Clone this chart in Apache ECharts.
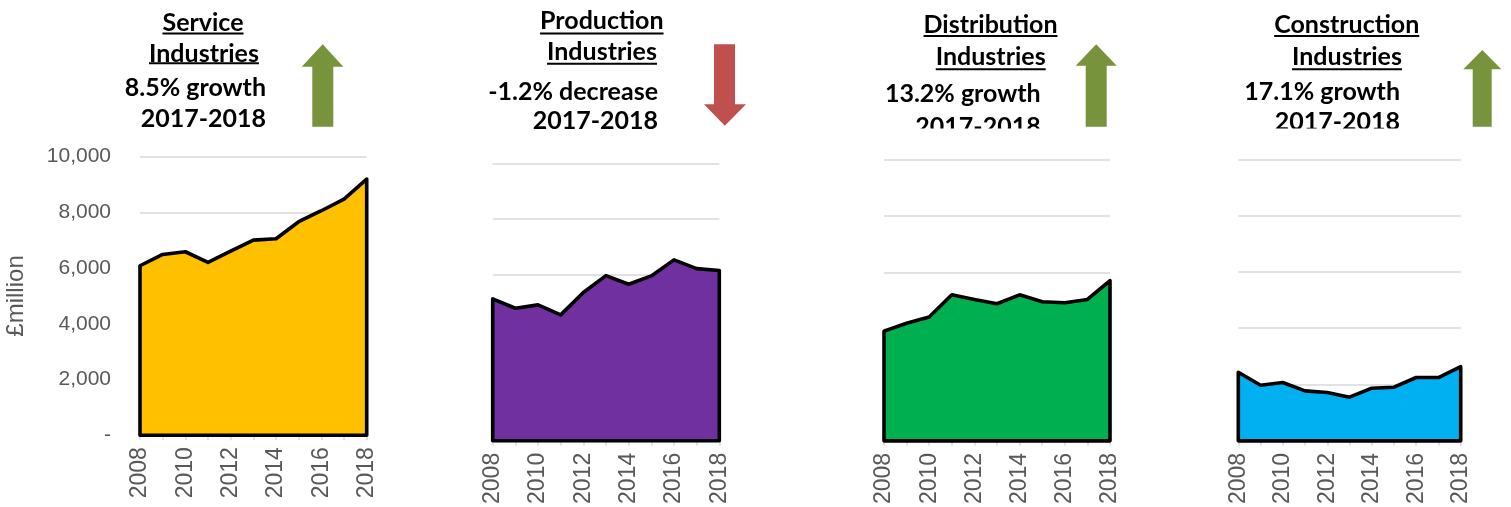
<!DOCTYPE html>
<html>
<head>
<meta charset="utf-8">
<script src="https://cdn.jsdelivr.net/npm/echarts@6/dist/echarts.min.js"></script>
<style>
  html, body { margin: 0; padding: 0; background: #fff; }
  #chart { width: 1511px; height: 507px; }
</style>
</head>
<body>
<div id="chart"></div>
<script>
// ---- data ----
const years = ['2008','2009','2010','2011','2012','2013','2014','2015','2016','2017','2018'];
const serviceValues      = [6084, 6491, 6587, 6204, 6611, 7006, 7054, 7665, 8060, 8479, 9198];
const productionValues   = [5114, 4778, 4898, 4538, 5342, 5954, 5642, 5942, 6519, 6206, 6134];
const distributionValues = [3906, 4188, 4412, 5200, 5035, 4882, 5200, 4953, 4918, 5035, 5700];
const constructionValues = [2438, 1976, 2071, 1775, 1716, 1550, 1870, 1905, 2249, 2249, 2634];
const yTickValues = [0, 2000, 4000, 6000, 8000, 10000];
const yAxisTitle = '£million';
const panelTitles = [
  ['Service', 'Industries', '8.5% growth', '2017-2018'],
  ['Production', 'Industries', '-1.2% decrease', '2017-2018'],
  ['Distribution', 'Industries', '13.2% growth', '2017-2018'],
  ['Construction', 'Industries', '17.1% growth', '2017-2018']
];

// ---- styles / layout ----
const fills = ['#FFC000', '#7030A0', '#00B050', '#00B0F0'];
const grids = [
  { left: 140,    top: 156.7, width: 226.7, height: 278.5 },
  { left: 492.7,  top: 163.3, width: 226.6, height: 277.5 },
  { left: 884,    top: 160,   width: 226,   height: 283.3 },
  { left: 1238.3, top: 159.3, width: 222.4, height: 282 }
];
const seriesValues = [serviceValues, productionValues, distributionValues, constructionValues];
const gridColor = '#d9d9d9';
const labelColor = '#595959';
const titleFont = 'bold 25px Lato';

const chart = echarts.init(document.getElementById('chart'), null, { renderer: 'canvas' });

const xAxes = grids.map((g, i) => ({
  type: 'category', gridIndex: i, data: years, boundaryGap: false,
  axisLine: { show: true, lineStyle: { color: gridColor, width: 1.5 } },
  axisTick: { show: true, interval: 0, length: 5, lineStyle: { color: gridColor, width: 1.5 } },
  axisLabel: { interval: 1, rotate: 90, color: labelColor, fontFamily: 'Liberation Sans', fontSize: 23, margin: 12 }
}));
const yAxes = grids.map((g, i) => ({
  type: 'value', gridIndex: i, min: yTickValues[0], max: yTickValues[yTickValues.length - 1], interval: 2000,
  axisLine: { show: false }, axisTick: { show: false },
  splitLine: { show: true, lineStyle: { color: gridColor, width: 1.5 } },
  axisLabel: i === 0 ? {
    show: true, color: labelColor, fontFamily: 'Liberation Sans', fontSize: 21, margin: 29,
    formatter: v => v === 0 ? '-' : v.toLocaleString('en-US')
  } : { show: false },
  name: i === 0 ? yAxisTitle : '',
  nameLocation: 'middle', nameRotate: 90, nameGap: 112,
  nameTextStyle: { color: labelColor, fontFamily: 'Liberation Sans', fontSize: 24 }
}));

function areaRenderer(values, fill) {
  return function (params, api) {
    if (params.dataIndex !== 0) return null;
    const pts = values.map((v, i) => api.coord([i, v]));
    pts.push(api.coord([values.length - 1, 0]));
    pts.push(api.coord([0, 0]));
    return {
      type: 'polygon',
      shape: { points: pts },
      style: { fill: fill, stroke: '#000', lineWidth: 3.6, lineJoin: 'round' }
    };
  };
}

const series = seriesValues.map((vals, i) => ({
  type: 'custom', xAxisIndex: i, yAxisIndex: i,
  data: vals.map((v, j) => [j, v]),
  encode: { x: 0, y: 1 },
  renderItem: areaRenderer(vals, fills[i]),
  clip: false, silent: true, z: 3
}));

// ---- titles / arrows ----
const measureCtx = document.createElement('canvas').getContext('2d');
function textWidth(t) { measureCtx.font = titleFont; return measureCtx.measureText(t).width; }

const titlePos = [
  { cx1: 203,   cx2: 204,   rx: 266,    y: [23, 53.5, 87.5, 118.5],  u: [33.5, 63.2] },
  { cx1: 601.8, cx2: 602,   rx: 658,    y: [21, 51.7, 91.7, 120.5],  u: [33.5, 63.7] },
  { cx1: 990.5, cx2: 990.7, rx: 1040.7, y: [25, 56.7, 93.5, 126.5],  u: [35.9, 69.2] },
  { cx1: 1346.7,cx2: 1347,  rx: 1400,   y: [25, 57, 91.5, 121.5],    u: [35.9, 69.2] }
];

const graphics = [];
panelTitles.forEach((lines, i) => {
  const p = titlePos[i];
  const cxs = [p.cx1, p.cx2];
  for (let k = 0; k < 2; k++) {
    graphics.push({ type: 'text', x: cxs[k], y: p.y[k], z: 10,
      style: { text: lines[k], font: titleFont, fill: '#000', align: 'center', verticalAlign: 'middle' } });
    const w = textWidth(lines[k]);
    graphics.push({ type: 'line', z: 10,
      shape: { x1: cxs[k] - w / 2, y1: p.u[k], x2: cxs[k] + w / 2, y2: p.u[k] },
      style: { stroke: '#000', lineWidth: 2 } });
  }
  for (let k = 2; k < 4; k++) {
    graphics.push({ type: 'text', x: p.rx, y: p.y[k], z: 10,
      style: { text: lines[k], font: titleFont, fill: '#000', align: 'right', verticalAlign: 'middle' } });
  }
});
// text-box clipping of the last lines in panels 3 and 4
graphics.push({ type: 'rect', z: 20, shape: { x: 910, y: 128.5, width: 140, height: 14 }, style: { fill: '#fff' } });
graphics.push({ type: 'rect', z: 20, shape: { x: 1270, y: 128.5, width: 140, height: 14 }, style: { fill: '#fff' } });

function upArrow(tipX, tipY, headY, hl, hr, sl, sr, bottom, color) {
  return { type: 'polygon', z: 10, shape: { points: [[tipX, tipY], [hr, headY], [sr, headY], [sr, bottom], [sl, bottom], [sl, headY], [hl, headY]] }, style: { fill: color } };
}
function downArrow(tipX, tipY, headY, hl, hr, sl, sr, top, color) {
  return { type: 'polygon', z: 10, shape: { points: [[sl, top], [sr, top], [sr, headY], [hr, headY], [tipX, tipY], [hl, headY], [sl, headY]] }, style: { fill: color } };
}
graphics.push(upArrow(322.7, 44.3, 66.7, 301.7, 343.3, 312.3, 333.3, 126.7, '#77933C'));
graphics.push(downArrow(724.8, 125.7, 104.3, 704, 746, 714, 735, 44.3, '#C0504D'));
graphics.push(upArrow(1096.2, 44.3, 65.7, 1075.7, 1116.7, 1085.7, 1106.7, 126.7, '#77933C'));
graphics.push(upArrow(1482.3, 50, 69.3, 1463.3, 1501.3, 1472.7, 1491.7, 126.7, '#77933C'));

chart.setOption({
  animation: false,
  backgroundColor: '#fff',
  grid: grids.map(g => Object.assign({ containLabel: false }, g)),
  xAxis: xAxes,
  yAxis: yAxes,
  series: series,
  graphic: graphics
});
</script>
</body>
</html>
